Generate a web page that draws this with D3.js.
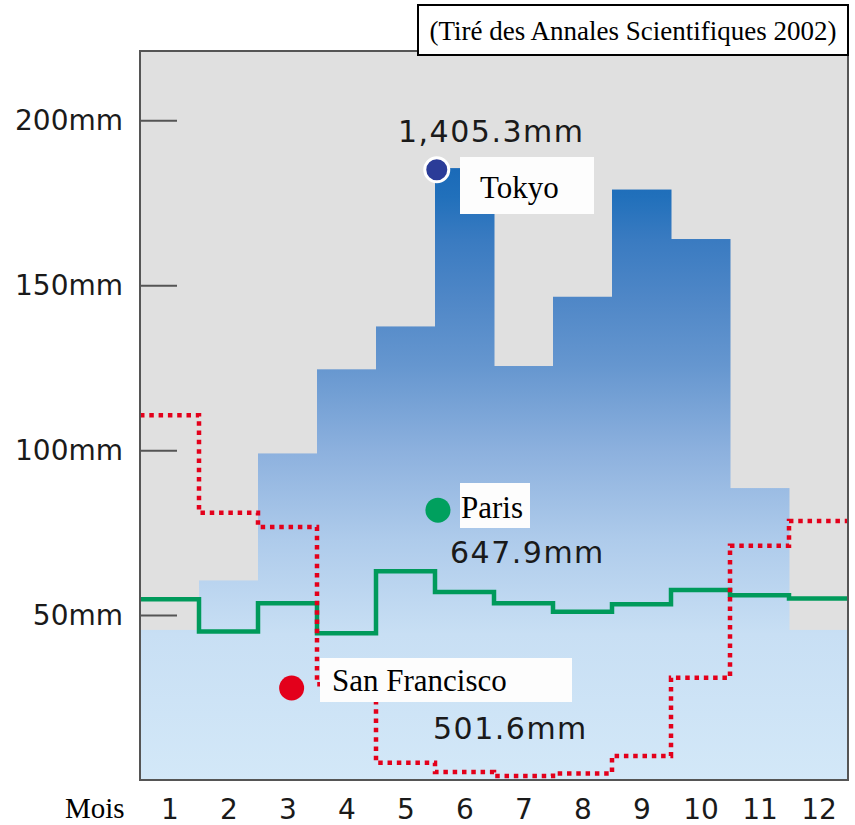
<!DOCTYPE html>
<html>
<head>
<meta charset="utf-8">
<script src="https://cdn.jsdelivr.net/npm/d3@7"></script>
<style>
  body { margin: 0; background: #fff; }
  svg { display: block; }
</style>
</head>
<body>
<svg id="chart" width="855" height="825"></svg>
<script>
// monthly rainfall (mm)
var months = [1, 2, 3, 4, 5, 6, 7, 8, 9, 10, 11, 12];
var tokyo = [45.5, 60.5, 99, 124.5, 137.5, 185.5, 125.5, 146.5, 179, 164, 88.5, 45.5];
var paris = [54.8, 45, 53.6, 44.5, 63.3, 57, 53.6, 51, 53.3, 57.6, 56, 55];
var sanFrancisco = [110.6, 81, 76.7, 29, 5.2, 2.4, 1.2, 2, 7.3, 31, 71, 78.5];
var yTicks = [50, 100, 150, 200];
var totals = ["1,405.3mm", "647.9mm", "501.6mm"];
var cities = ["Tokyo", "Paris", "San Francisco"];
var source = "(Tiré des Annales Scientifiques 2002)";

var svg = d3.select("#chart");
var plotL = 140, plotR = 848, plotT = 51, plotB = 780;

var x = d3.scaleLinear().domain([0.5, 12.5]).range([plotL, plotR]);
var y = d3.scaleLinear().domain([0, 221]).range([plotB, plotT]);

var sans = "DejaVu Sans, sans-serif";
var serif = "Liberation Serif, Times New Roman, serif";

// gradient for the Tokyo bars (light at the bottom, deep blue at the top)
var grad = svg.append("defs").append("linearGradient")
  .attr("id", "blue")
  .attr("gradientUnits", "userSpaceOnUse")
  .attr("x1", 0).attr("x2", 0)
  .attr("y1", y(0)).attr("y2", y(221));
[[0, "#d3e8f8"], [0.2, "#c8dff4"], [0.33, "#aecbeb"], [0.45, "#8db1de"],
 [0.57, "#6596cf"], [0.66, "#4f87c7"], [0.74, "#3a7bc1"], [0.8, "#2170bb"],
 [0.84, "#1a6ab8"], [1, "#0f5eb0"]].forEach(function(s) {
  grad.append("stop").attr("offset", s[0]).attr("stop-color", s[1]);
});

svg.append("rect")
  .attr("x", plotL).attr("y", plotT)
  .attr("width", plotR - plotL).attr("height", plotB - plotT)
  .attr("fill", "#e0e0e0");

svg.append("g").selectAll("rect")
  .data(tokyo)
  .enter().append("rect")
    .attr("x", (d, i) => x(months[i] - 0.5))
    .attr("width", (d, i) => x(months[i] + 0.5) - x(months[i] - 0.5) + 0.5)
    .attr("y", d => y(d))
    .attr("height", d => y(0) - y(d))
    .attr("fill", "url(#blue)");

function stepPoints(vals) {
  var pts = vals.map((v, i) => [x(months[i] - 0.5), y(v)]);
  pts.push([x(12.5), y(vals[vals.length - 1])]);
  return pts;
}
var step = d3.line().curve(d3.curveStepAfter);

svg.append("path")
  .attr("d", step(stepPoints(paris)))
  .attr("fill", "none")
  .attr("stroke", "#009a5b")
  .attr("stroke-width", 4.5);

svg.append("path")
  .attr("d", step(stepPoints(sanFrancisco)))
  .attr("fill", "none")
  .attr("stroke", "#e3001b")
  .attr("stroke-width", 4.5)
  .attr("stroke-dasharray", "4.5 4.8");

// y axis, ticks pointing inward
var yAxis = svg.append("g")
  .attr("transform", "translate(" + plotL + ",0)")
  .call(d3.axisLeft(y).tickValues(yTicks).tickSizeInner(-37).tickSizeOuter(0)
          .tickPadding(17).tickFormat(d => d + "mm"));
yAxis.select(".domain").remove();
yAxis.selectAll(".tick line").attr("stroke", "#555").attr("stroke-width", 2);
yAxis.selectAll("text")
  .style("font-family", sans).style("font-size", "28px").attr("fill", "#1a1a1a");

var xAxis = svg.append("g")
  .attr("transform", "translate(0," + plotB + ")")
  .call(d3.axisBottom(x).tickValues(months).tickSize(0).tickPadding(19));
xAxis.select(".domain").remove();
xAxis.selectAll("text")
  .style("font-family", sans).style("font-size", "28px").attr("fill", "#1a1a1a");

svg.append("text")
  .attr("x", 65).attr("y", 818)
  .style("font-family", serif).style("font-size", "29px")
  .text("Mois");

// frame
svg.append("rect")
  .attr("x", plotL).attr("y", plotT)
  .attr("width", plotR - plotL).attr("height", plotB - plotT)
  .attr("fill", "none").attr("stroke", "#555").attr("stroke-width", 2);

// city markers and labels
var colors = ["#2b3c98", "#00a05e", "#e3001b"];
var marks = [
  { dot: [5.53, 185], box: [460, 157, 134, 57], label: [480, 198], total: [398, 142] },
  { dot: [5.55, 81.8], box: [460, 483, 70, 45], label: [461, 518], total: [450, 563] },
  { dot: [3.07, 27.9], box: [320, 658, 252, 44], label: [332, 691], total: [433, 739] }
];

marks.forEach(function(m, i) {
  svg.append("text")
    .attr("x", m.total[0]).attr("y", m.total[1])
    .style("font-family", sans).style("font-size", "30px")
    .style("letter-spacing", "1.5px")
    .attr("fill", "#1a1a1a")
    .text(totals[i]);
  svg.append("rect")
    .attr("x", m.box[0]).attr("y", m.box[1])
    .attr("width", m.box[2]).attr("height", m.box[3])
    .attr("fill", "#fdfdfd");
  svg.append("circle")
    .attr("cx", x(m.dot[0])).attr("cy", y(m.dot[1]))
    .attr("r", i == 0 ? 12 : 12.5)
    .attr("fill", colors[i])
    .attr("stroke", i == 0 ? "#fff" : "none")
    .attr("stroke-width", 3);
  svg.append("text")
    .attr("x", m.label[0]).attr("y", m.label[1])
    .style("font-family", serif).style("font-size", "31px")
    .attr("fill", "#000")
    .text(cities[i]);
});

// source box
svg.append("rect")
  .attr("x", 418).attr("y", 5)
  .attr("width", 430).attr("height", 50)
  .attr("fill", "#fff").attr("stroke", "#000").attr("stroke-width", 2);
svg.append("text")
  .attr("x", 633).attr("y", 40)
  .attr("text-anchor", "middle")
  .style("font-family", serif).style("font-size", "27px")
  .text(source);
</script>
</body>
</html>
